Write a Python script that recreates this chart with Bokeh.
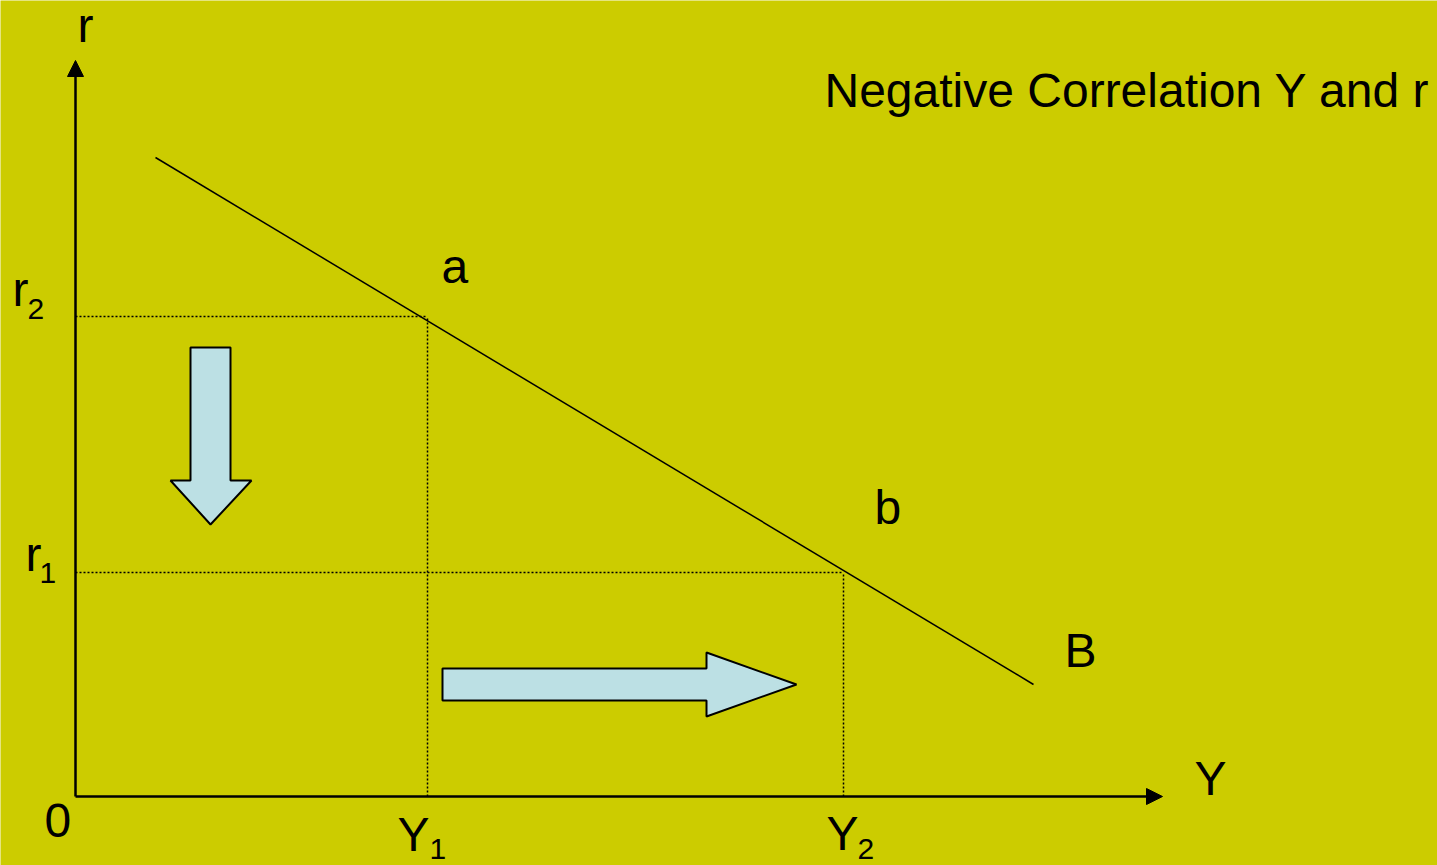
from bokeh.plotting import figure
from bokeh.models import Arrow, NormalHead, ColumnDataSource, Range1d
from bokeh.core.properties import value
from bokeh.embed import file_html
from bokeh.resources import INLINE

# ---- data (diagram units: 1 unit = 100 px) ----
# downward-sloping curve
curve_x = [0.80, 9.58]
curve_y = [6.39, 1.12]

# key equilibrium values
Y1 = 3.52
Y2 = 7.68
r1 = 2.24
r2 = 4.80

# axis extents
x_axis_end = 10.87
y_axis_end = 7.36

# block arrows (polygon vertices)
down_arrow_x = [1.15, 1.55, 1.55, 1.76, 1.35, 0.95, 1.15]
down_arrow_y = [4.49, 4.49, 3.16, 3.16, 2.72, 3.16, 3.16]
right_arrow_x = [3.67, 6.31, 6.31, 7.21, 6.31, 6.31, 3.67]
right_arrow_y = [1.28, 1.28, 1.44, 1.12, 0.80, 0.96, 0.96]

# labels
main_text = ["r", "Negative Correlation Y and r", "a", "b", "B", "Y", "0", "Y", "Y", "r", "r"]
main_x = [0.02, 7.49, 3.66, 7.99, 9.89, 11.19, -0.31, 3.22, 7.51, -0.63, -0.50]
main_y = [7.71, 7.06, 5.30, 2.89, 1.46, 0.18, -0.24, -0.38, -0.37, 5.07, 2.42]
sub_text = ["1", "2", "2", "1"]
sub_x = [3.54, 7.82, -0.48, -0.36]
sub_y = [-0.52, -0.52, 4.88, 2.24]

BG = "#CCCC00"
ARROW_FILL = "#BCE0E4"
FONT = "Liberation Sans"

p = figure(width=1437, height=865, output_backend="svg", toolbar_location=None,
           x_range=Range1d(-0.75, 13.62), y_range=Range1d(-0.69, 7.96),
           min_border=0)
p.axis.visible = False
p.grid.visible = False
p.outline_line_color = None
p.background_fill_color = BG
p.border_fill_color = BG

# block arrows
p.patch(down_arrow_x, down_arrow_y, fill_color=ARROW_FILL, line_color="black", line_width=2)
p.patch(right_arrow_x, right_arrow_y, fill_color=ARROW_FILL, line_color="black", line_width=2)

# dotted guide lines
p.line([0, Y1], [r2, r2], line_color="black", line_width=1.5, line_dash="2 2")
p.line([Y1, Y1], [0, r2], line_color="black", line_width=1.5, line_dash="2 2")
p.line([0, Y2], [r1, r1], line_color="black", line_width=1.5, line_dash="2 2")
p.line([Y2, Y2], [0, r1], line_color="black", line_width=1.5, line_dash="2 2")

# curve
p.line(curve_x, curve_y, line_color="black", line_width=1.5)

# axes with arrow heads
p.add_layout(Arrow(end=NormalHead(size=16, fill_color="black", line_color="black"),
                   x_start=0, y_start=0, x_end=0, y_end=y_axis_end,
                   line_width=2.5, line_color="black"))
p.add_layout(Arrow(end=NormalHead(size=16, fill_color="black", line_color="black"),
                   x_start=0, y_start=0, x_end=x_axis_end, y_end=0,
                   line_width=2.5, line_color="black"))

# labels
src_main = ColumnDataSource(dict(x=main_x, y=main_y, t=main_text))
p.text(x="x", y="y", text="t", source=src_main, text_font=value(FONT),
       text_font_size="48px", text_color="black", text_baseline="alphabetic",
       text_align="left")
src_sub = ColumnDataSource(dict(x=sub_x, y=sub_y, t=sub_text))
p.text(x="x", y="y", text="t", source=src_sub, text_font=value(FONT),
       text_font_size="30px", text_color="black", text_baseline="alphabetic",
       text_align="left")

open("out.html", "w").write(file_html(p, INLINE))
